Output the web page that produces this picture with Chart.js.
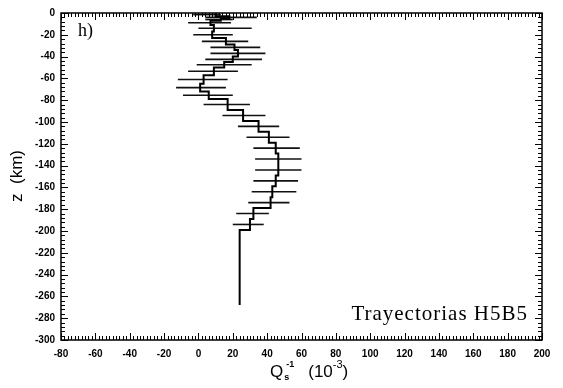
<!DOCTYPE html>
<html>
<head>
<meta charset="utf-8">
<script src="https://cdn.jsdelivr.net/npm/chart.js@4.4.1/dist/chart.umd.min.js"></script>
<style>
  html, body { margin: 0; padding: 0; background: #fff; }
  #wrap { width: 563px; height: 388px; }
</style>
</head>
<body>
<div id="wrap"><canvas id="myChart" width="563" height="388"></canvas></div>
<script>
// layered Q^-1 profile, depth in km (negative downwards)
var layerTop    = [0, -3, -5, -7, -11, -17, -23, -29, -34, -40, -45, -50, -57, -65, -72, -79, -89, -99, -109, -119, -129, -139, -149, -159, -169, -179, -189, -199];
var layerBottom = [-3, -5, -7, -11, -17, -23, -29, -34, -40, -45, -50, -57, -65, -72, -79, -89, -99, -109, -119, -129, -139, -149, -159, -169, -179, -189, -199, -268];
var qMean = [10, 18, 13, 7, 9, 8, 16, 21, 23, 20, 15, 9, 3, 1, 6, 17, 26, 35, 41, 45, 46.5, 46.5, 45, 43, 42, 32, 30, 24];
var qLow  = [-3, 4, 4, -6, 0, -3, 2, 7, 7, 4, -1, -6, -12, -13, -9, 3, 14, 23, 28, 32, 33, 33, 32, 31, 29, 22, 20, null];
var qHigh = [13, 34, 20, 19, 31, 20, 29, 36, 39, 37, 31, 23, 17, 16, 20, 30, 39, 47, 53, 59, 60, 60, 58, 57, 53, 41, 38, null];

var xTicks = { min: -80, max: 200, step: 20, minor: 2 };
var yTicks = { min: -300, max: 0, step: 20, minor: 4 };

// staircase line: each layer is a vertical segment
var profile = [];
for (var i = 0; i < qMean.length; i++) {
    profile.push({ x: qMean[i], y: layerTop[i] });
    profile.push({ x: qMean[i], y: layerBottom[i] });
}

var datasets = [{
    data: profile,
    showLine: true,
    borderColor: '#000',
    borderWidth: 2,
    pointRadius: 0
}];

// one horizontal error bar per layer, at mid depth
for (var j = 0; j < qLow.length; j++) {
    if (qLow[j] == null) continue;
    var zc = (layerTop[j] + layerBottom[j]) / 2;
    datasets.push({
        data: [{ x: qLow[j], y: zc }, { x: qHigh[j], y: zc }],
        showLine: true,
        borderColor: '#111',
        borderWidth: 1.6,
        pointRadius: 0
    });
}

// frame with inward ticks on all four sides
var frameTicks = {
    id: 'frameTicks',
    afterDraw: function (chart) {
        var ctx = chart.ctx, a = chart.chartArea;
        var xs = chart.scales.x, ys = chart.scales.y;
        ctx.save();
        ctx.strokeStyle = '#000';
        ctx.lineWidth = 1.5;
        ctx.strokeRect(a.left, a.top, a.right - a.left, a.bottom - a.top);
        ctx.lineWidth = 1;
        ctx.beginPath();
        for (var v = xTicks.min; v <= xTicks.max; v += xTicks.minor) {
            var px = Math.round(xs.getPixelForValue(v)) + 0.5;
            var len = (v % xTicks.step === 0) ? 7 : 4;
            ctx.moveTo(px, a.bottom); ctx.lineTo(px, a.bottom - len);
            ctx.moveTo(px, a.top); ctx.lineTo(px, a.top + len);
        }
        for (var w = yTicks.min; w <= yTicks.max; w += yTicks.minor) {
            var py = Math.round(ys.getPixelForValue(w)) + 0.5;
            var ln = (w % yTicks.step === 0) ? 7 : 4;
            ctx.moveTo(a.left, py); ctx.lineTo(a.left + ln, py);
            ctx.moveTo(a.right, py); ctx.lineTo(a.right - ln, py);
        }
        ctx.stroke();

        // panel letter and run name
        ctx.fillStyle = '#000';
        ctx.font = '18px "Liberation Serif"';
        ctx.textBaseline = 'alphabetic';
        ctx.textAlign = 'left';
        ctx.fillText('h)', a.left + 17, a.top + 23);
        ctx.font = '21px "Liberation Serif"';
        ctx.letterSpacing = '1px';
        ctx.textAlign = 'right';
        ctx.fillText('Trayectorias H5B5', a.right - 14, a.bottom - 20);
        ctx.letterSpacing = '0px';

        // x axis title with sub/superscripts
        var base = 377;
        var x0 = 270;
        ctx.textAlign = 'left';
        ctx.font = '17px "Liberation Sans"';
        ctx.fillText('Q', x0, base);
        x0 += ctx.measureText('Q').width + 1;
        ctx.font = 'bold 9px "Liberation Sans"';
        ctx.fillText('s', x0, base + 3);
        ctx.fillText('-1', x0 + 2, base - 10);
        x0 += ctx.measureText('-1').width + 16;
        ctx.font = '17px "Liberation Sans"';
        ctx.fillText('(10', x0, base);
        x0 += ctx.measureText('(10').width;
        ctx.font = '11px "Liberation Sans"';
        ctx.fillText('-3', x0, base - 9);
        x0 += ctx.measureText('-3').width;
        ctx.font = '17px "Liberation Sans"';
        ctx.fillText(')', x0, base);

        // y axis title
        ctx.translate(22, 176);
        ctx.rotate(-Math.PI / 2);
        ctx.textAlign = 'center';
        ctx.font = '17px "Liberation Sans"';
        ctx.fillText('z  (km)', 0, 0);
        ctx.restore();
    }
};

var tickFont = { family: 'Liberation Sans', size: 10, weight: 'bold' };

new Chart(document.getElementById('myChart'), {
    type: 'scatter',
    data: { datasets: datasets },
    options: {
        responsive: false,
        animation: false,
        layout: { padding: { top: 13, right: 21, left: 0, bottom: 0 } },
        plugins: {
            legend: { display: false },
            tooltip: { enabled: false }
        },
        scales: {
            x: {
                type: 'linear',
                min: xTicks.min, max: xTicks.max,
                grid: { display: false, drawTicks: false },
                border: { display: false },
                ticks: { stepSize: xTicks.step, color: '#000', font: tickFont, padding: 8, maxRotation: 0 },
                afterFit: function (s) { s.height = 48; }
            },
            y: {
                type: 'linear',
                min: yTicks.min, max: yTicks.max,
                grid: { display: false, drawTicks: false },
                border: { display: false },
                ticks: { stepSize: yTicks.step, color: '#000', font: tickFont, padding: 6 },
                afterFit: function (s) { s.width = 61; }
            }
        }
    },
    plugins: [frameTicks]
});
</script>
</body>
</html>
